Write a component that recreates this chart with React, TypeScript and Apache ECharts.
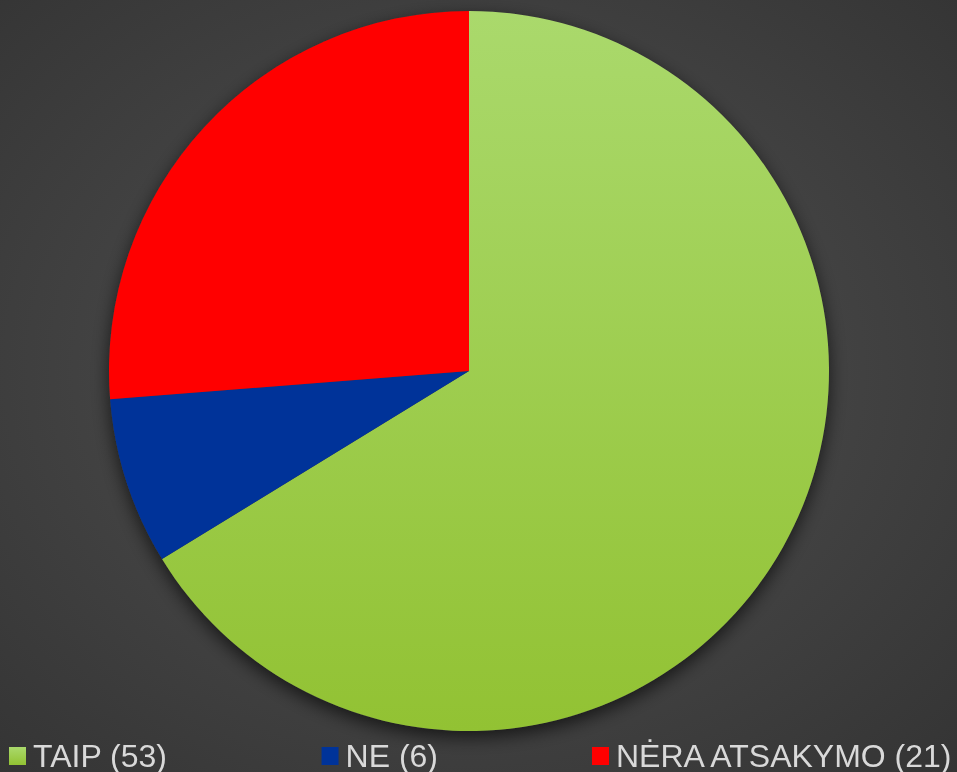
import React, { useEffect, useRef } from "react";
import * as echarts from "echarts";

const categories = ["TAIP (53)", "NE (6)", "NĖRA ATSAKYMO (21)"];
const values = [53, 6, 21];

export default function App() {
  const ref = useRef<HTMLDivElement>(null);
  useEffect(() => {
    if (!ref.current) return;
    const chart = echarts.init(ref.current, null, { renderer: "svg" });
    const colors: any[] = [
      new echarts.graphic.LinearGradient(0, 0, 0, 1, [
        { offset: 0, color: "#aad96c" },
        { offset: 1, color: "#92c233" },
      ]),
      "#003399",
      "#ff0000",
    ];
    const total = values.reduce((a, b) => a + b, 0);
    chart.setOption({
      animation: false,
      backgroundColor: new echarts.graphic.RadialGradient(0.49, 0.48, 0.75, [
        { offset: 0, color: "#525252" },
        { offset: 1, color: "#333333" },
      ]),
      legend: {
        data: categories,
        left: 9,
        top: 738,
        padding: 0,
        itemWidth: 17,
        itemHeight: 18,
        itemGap: 154,
        icon: "rect",
        textStyle: {
          color: "#d9d9d9",
          fontSize: 32,
          lineHeight: 36,
          fontFamily: "Liberation Sans, Arial, sans-serif",
          padding: [0, 0, 0, 2],
        },
      },
      series: [
        {
          type: "pie",
          center: [469, 371],
          radius: [0, 360],
          silent: true,
          label: { show: false },
          labelLine: { show: false },
          legendHoverLink: false,
          data: [{ value: total, name: "_shadow" }],
          itemStyle: {
            color: "#3a3a3a",
            shadowBlur: 18,
            shadowOffsetY: 6,
            shadowColor: "rgba(0,0,0,0.65)",
          },
          z: 1,
        },
        {
          type: "pie",
          center: [469, 371],
          radius: [0, 360],
          startAngle: 90,
          clockwise: true,
          label: { show: false },
          labelLine: { show: false },
          data: categories.map((c, i) => ({
            name: c,
            value: values[i],
            itemStyle: { color: colors[i] },
          })),
          itemStyle: { borderWidth: 0 },
          z: 2,
        },
      ],
    });
    return () => chart.dispose();
  }, []);
  return (
    <div
      ref={ref}
      style={{ position: "fixed", left: 0, top: 0, width: 957, height: 772 }}
    />
  );
}
